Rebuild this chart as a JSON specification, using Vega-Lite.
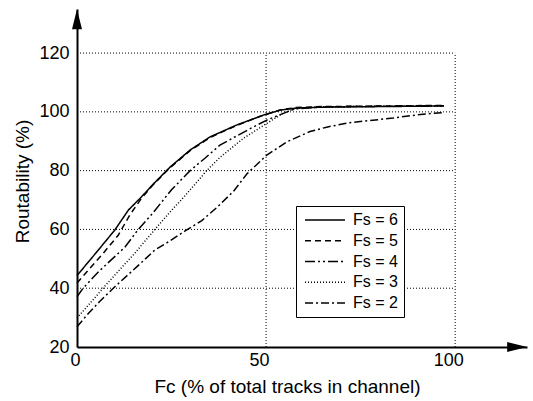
{
  "$schema": "https://vega.github.io/schema/vega-lite/v6.json",
  "width": 450,
  "height": 338,
  "autosize": "none",
  "padding": {"left": 77, "top": 9, "right": 6, "bottom": 54},
  "background": "white",
  "config": {
    "font": "Liberation Sans",
    "view": {"stroke": null},
    "axis": {
      "labelFont": "Liberation Sans",
      "labelFontSize": 18,
      "labelColor": "black",
      "titleFont": "Liberation Sans",
      "titleFontSize": 19,
      "titleFontWeight": "normal",
      "titleColor": "black",
      "domainColor": "black",
      "domainWidth": 2,
      "ticks": false,
      "grid": false
    },
    "axisX": {"labelPadding": 4, "labelOffset": -7, "titleX": 210, "titlePadding": 8},
    "axisY": {"labelPadding": 8, "titleY": 172, "titlePadding": 6}
  },
  "data": {"values": [
      {"series": "Fs = 6", "fc": 0, "r": 44.3},
      {"series": "Fs = 6", "fc": 5, "r": 52},
      {"series": "Fs = 6", "fc": 10, "r": 59.8},
      {"series": "Fs = 6", "fc": 13.6, "r": 66.6},
      {"series": "Fs = 6", "fc": 17, "r": 71},
      {"series": "Fs = 6", "fc": 20, "r": 75.2},
      {"series": "Fs = 6", "fc": 24.6, "r": 81.2},
      {"series": "Fs = 6", "fc": 29.9, "r": 87},
      {"series": "Fs = 6", "fc": 35.2, "r": 91.5},
      {"series": "Fs = 6", "fc": 42.2, "r": 95.5},
      {"series": "Fs = 6", "fc": 49.3, "r": 98.9},
      {"series": "Fs = 6", "fc": 53.7, "r": 100.6},
      {"series": "Fs = 6", "fc": 58, "r": 101.3},
      {"series": "Fs = 6", "fc": 65, "r": 101.6},
      {"series": "Fs = 6", "fc": 80, "r": 101.8},
      {"series": "Fs = 6", "fc": 97, "r": 102},
      {"series": "Fs = 5", "fc": 0, "r": 41.8},
      {"series": "Fs = 5", "fc": 3, "r": 46.2},
      {"series": "Fs = 5", "fc": 7, "r": 52},
      {"series": "Fs = 5", "fc": 10.9, "r": 58},
      {"series": "Fs = 5", "fc": 14, "r": 65},
      {"series": "Fs = 5", "fc": 17, "r": 70.5},
      {"series": "Fs = 5", "fc": 20, "r": 75},
      {"series": "Fs = 5", "fc": 24.6, "r": 81},
      {"series": "Fs = 5", "fc": 29.9, "r": 86.8},
      {"series": "Fs = 5", "fc": 35.2, "r": 91.3},
      {"series": "Fs = 5", "fc": 42.2, "r": 95.4},
      {"series": "Fs = 5", "fc": 49.3, "r": 98.9},
      {"series": "Fs = 5", "fc": 54, "r": 100.7},
      {"series": "Fs = 5", "fc": 58, "r": 101.5},
      {"series": "Fs = 5", "fc": 65, "r": 101.8},
      {"series": "Fs = 5", "fc": 80, "r": 102},
      {"series": "Fs = 5", "fc": 97, "r": 102.2},
      {"series": "Fs = 4", "fc": 0, "r": 37.1},
      {"series": "Fs = 4", "fc": 1.6, "r": 40},
      {"series": "Fs = 4", "fc": 6, "r": 46},
      {"series": "Fs = 4", "fc": 12.7, "r": 54},
      {"series": "Fs = 4", "fc": 16.2, "r": 60},
      {"series": "Fs = 4", "fc": 20, "r": 65.5},
      {"series": "Fs = 4", "fc": 25, "r": 73.5},
      {"series": "Fs = 4", "fc": 29.9, "r": 80},
      {"series": "Fs = 4", "fc": 33.9, "r": 84.3},
      {"series": "Fs = 4", "fc": 37.8, "r": 88.7},
      {"series": "Fs = 4", "fc": 45.8, "r": 94.3},
      {"series": "Fs = 4", "fc": 50.2, "r": 97.2},
      {"series": "Fs = 4", "fc": 54.6, "r": 99.5},
      {"series": "Fs = 4", "fc": 57.5, "r": 101},
      {"series": "Fs = 4", "fc": 65, "r": 101.7},
      {"series": "Fs = 4", "fc": 80, "r": 101.9},
      {"series": "Fs = 4", "fc": 97, "r": 102.1},
      {"series": "Fs = 3", "fc": 0, "r": 29.9},
      {"series": "Fs = 3", "fc": 3.5, "r": 35},
      {"series": "Fs = 3", "fc": 6.9, "r": 40},
      {"series": "Fs = 3", "fc": 10, "r": 44.5},
      {"series": "Fs = 3", "fc": 15, "r": 51.5},
      {"series": "Fs = 3", "fc": 20.6, "r": 60},
      {"series": "Fs = 3", "fc": 25, "r": 66.5},
      {"series": "Fs = 3", "fc": 28.6, "r": 71.5},
      {"series": "Fs = 3", "fc": 34.3, "r": 80},
      {"series": "Fs = 3", "fc": 37.8, "r": 84.5},
      {"series": "Fs = 3", "fc": 44, "r": 91},
      {"series": "Fs = 3", "fc": 50.2, "r": 96.1},
      {"series": "Fs = 3", "fc": 54.6, "r": 99.6},
      {"series": "Fs = 3", "fc": 58, "r": 101.2},
      {"series": "Fs = 3", "fc": 65, "r": 101.7},
      {"series": "Fs = 3", "fc": 80, "r": 101.9},
      {"series": "Fs = 3", "fc": 97, "r": 102},
      {"series": "Fs = 2", "fc": 0, "r": 26.9},
      {"series": "Fs = 2", "fc": 3, "r": 31.4},
      {"series": "Fs = 2", "fc": 6, "r": 35.5},
      {"series": "Fs = 2", "fc": 10, "r": 40.5},
      {"series": "Fs = 2", "fc": 16, "r": 47.5},
      {"series": "Fs = 2", "fc": 20.6, "r": 53},
      {"series": "Fs = 2", "fc": 24.2, "r": 55.8},
      {"series": "Fs = 2", "fc": 28.6, "r": 59.5},
      {"series": "Fs = 2", "fc": 33, "r": 63},
      {"series": "Fs = 2", "fc": 37, "r": 67.5},
      {"series": "Fs = 2", "fc": 41.4, "r": 73},
      {"series": "Fs = 2", "fc": 45, "r": 79},
      {"series": "Fs = 2", "fc": 50.2, "r": 85.3},
      {"series": "Fs = 2", "fc": 55.5, "r": 89.8},
      {"series": "Fs = 2", "fc": 61.6, "r": 93.3},
      {"series": "Fs = 2", "fc": 66, "r": 94.8},
      {"series": "Fs = 2", "fc": 72, "r": 96.3},
      {"series": "Fs = 2", "fc": 83.6, "r": 97.9},
      {"series": "Fs = 2", "fc": 90, "r": 99},
      {"series": "Fs = 2", "fc": 97, "r": 99.8}
  ]},
  "layer": [
    {
      "data": {"values": [{"g": 40}, {"g": 60}, {"g": 80}, {"g": 100}, {"g": 120}]},
      "mark": {"type": "rule", "color": "black", "strokeWidth": 1, "strokeDash": [1, 2]},
      "encoding": {
        "y": {"field": "g", "type": "quantitative", "scale": {"domain": [20, 135], "nice": false, "zero": false},
              "axis": {"values": [20, 40, 60, 80, 100, 120], "title": "Routability (%)"}},
        "x": {"datum": 0, "type": "quantitative", "scale": {"domain": [0, 119], "nice": false, "zero": false},
              "axis": {"values": [0, 50, 100], "title": "Fc (% of total tracks in channel)"}},
        "x2": {"datum": 100}
      }
    },
    {
      "data": {"values": [{"g": 50}, {"g": 100}]},
      "mark": {"type": "rule", "color": "black", "strokeWidth": 1, "strokeDash": [1, 2]},
      "encoding": {
        "x": {"field": "g", "type": "quantitative", "scale": {"domain": [0, 119], "nice": false, "zero": false},
              "axis": {"values": [0, 50, 100], "title": "Fc (% of total tracks in channel)"}},
        "y": {"datum": 20, "type": "quantitative", "scale": {"domain": [20, 135], "nice": false, "zero": false},
              "axis": {"values": [20, 40, 60, 80, 100, 120], "title": "Routability (%)"}},
        "y2": {"datum": 120}
      }
    },
    {
      "mark": {"type": "line", "color": "black", "strokeWidth": 1.5},
      "encoding": {
        "x": {"field": "fc", "type": "quantitative", "scale": {"domain": [0, 119], "nice": false, "zero": false},
              "axis": {"values": [0, 50, 100], "title": "Fc (% of total tracks in channel)"}},
        "y": {"field": "r", "type": "quantitative", "scale": {"domain": [20, 135], "nice": false, "zero": false},
              "axis": {"values": [20, 40, 60, 80, 100, 120], "title": "Routability (%)"}},
        "strokeDash": {
          "field": "series", "type": "nominal",
          "scale": {
            "domain": ["Fs = 6", "Fs = 5", "Fs = 4", "Fs = 3", "Fs = 2"],
            "range": [[1, 0], [6, 4], [10, 3, 2, 3, 2, 3], [1, 2], [8, 3, 2, 3]]
          },
          "legend": {
            "title": null,
            "orient": "none",
            "legendX": 219,
            "legendY": 197,
            "symbolType": "M-4,0L4,0",
            "symbolSize": 100,
            "symbolStrokeWidth": 1.5,
            "symbolStrokeColor": "black",
            "symbolOffset": 15,
            "labelFont": "Liberation Sans",
            "labelFontSize": 16,
            "labelColor": "black",
            "labelOffset": 20,
            "rowPadding": 4.75,
            "padding": 6,
            "strokeColor": "black",
            "fillColor": "white"
          }
        }
      }
    },
    {
      "data": {"values": [{"a": 1}]},
      "mark": {"type": "point", "shape": "M-0.5,1L0,-1L0.5,1Z", "filled": true, "color": "black", "opacity": 1, "size": 400},
      "encoding": {
        "x": {"datum": 0, "type": "quantitative", "scale": {"domain": [0, 119], "nice": false, "zero": false},
              "axis": {"values": [0, 50, 100], "title": "Fc (% of total tracks in channel)"}},
        "y": {"datum": 131.5, "type": "quantitative", "scale": {"domain": [20, 135], "nice": false, "zero": false},
              "axis": {"values": [20, 40, 60, 80, 100, 120], "title": "Routability (%)"}}
      }
    },
    {
      "data": {"values": [{"a": 1}]},
      "mark": {"type": "point", "shape": "M-1,-0.5L1,0L-1,0.5Z", "filled": true, "color": "black", "opacity": 1, "size": 400},
      "encoding": {
        "x": {"datum": 116.4, "type": "quantitative", "scale": {"domain": [0, 119], "nice": false, "zero": false},
              "axis": {"values": [0, 50, 100], "title": "Fc (% of total tracks in channel)"}},
        "y": {"datum": 20, "type": "quantitative", "scale": {"domain": [20, 135], "nice": false, "zero": false},
              "axis": {"values": [20, 40, 60, 80, 100, 120], "title": "Routability (%)"}}
      }
    }
  ]
}
